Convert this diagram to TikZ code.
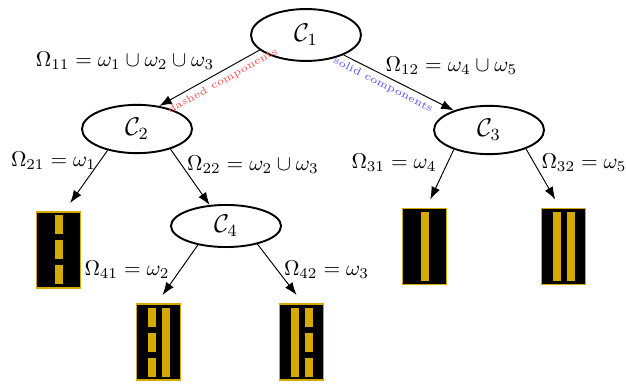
\documentclass[tikz,border=0pt]{standalone}
\usepackage{amsmath,amssymb}
\usepackage{tikz}
\usetikzlibrary{arrows.meta,calc,shapes.geometric}
\definecolor{LaneGold}{HTML}{D4A900}
\definecolor{TagRed}{HTML}{FF4D4D}
\definecolor{TagBlue}{HTML}{5050FF}
\newcommand{\solidlane}[2]{\fill[lane] ($(#1)+(#2-4,-34.5)$) rectangle ($(#1)+(#2+4,34.5)$);}
\newcommand{\dashlane}[2]{\foreach \dy in {-25,0,25} {\fill[lane] ($(#1)+(#2-4,\dy-9.5)$) rectangle ($(#1)+(#2+4,\dy+9.5)$);}}

\begin{document}
\begin{tikzpicture}[
  x=0.468pt,y=-0.468pt,
  cls/.style={ellipse,draw,line width=0.9pt,minimum width=51.5pt,minimum height=22.6pt,inner sep=0pt,font=\large},
  road/.style={draw=LaneGold,fill=black,line width=0.65pt,minimum width=20.6pt,minimum height=35.6pt,
               inner sep=0pt,outer sep=4.2pt},
  lane/.style={fill=LaneGold},
  arr/.style={line width=0.45pt,-{Latex[length=5.9pt,width=4.3pt]}},
  split/.style={inner sep=0pt},
  tag/.style={font=\fontsize{5}{6}\selectfont,inner sep=0pt}
]
\useasboundingbox (0,0) rectangle (626,386);

% classifiers
\node[cls,minimum height=24.3pt] (C1) at (306,35) {$\mathcal{C}_1$};
\node[cls] (C2) at (137,129) {$\mathcal{C}_2$};
\node[cls] (C3) at (489,130) {$\mathcal{C}_3$};
\node[cls,minimum height=19.7pt] (C4) at (226,226) {$\mathcal{C}_4$};

% leaves
\node[road] (L21) at (58.5,250) {};
\node[road] (L31) at (424.5,246.5) {};
\node[road] (L32) at (563.5,246.5) {};
\node[road] (L41) at (158.5,342) {};
\node[road] (L42) at (301.5,342) {};
\dashlane{L21}{0}
\solidlane{L31}{0}
\solidlane{L32}{-7}\solidlane{L32}{7}
\dashlane{L41}{-7}\solidlane{L41}{7}
\solidlane{L42}{-7}\dashlane{L42}{7}

\draw[arr] (C1.198) -- (C2.46);
\draw[arr] (C1.332) -- (C3.151);
\draw[arr] (C2.216) -- (L21.76);
\draw[arr] (C2.329) -- (C4.128);
\draw[arr] (C3.209) -- (L31.83);
\draw[arr] (C3.333) -- (L32.100);
\draw[arr] (C4.214) -- (L41.85);
\draw[arr] (C4.330) -- (L42.96);

% component tags
\node[tag,text=TagRed,rotate=29] (dashtag) at (223,81) {dashed components};
\node[tag,text=TagBlue,rotate=-27] (solidtag) at (383,85) {solid components};

% splits
\node[split] (o11) at (125,61) {$\Omega_{11}=\omega_1\cup\omega_2\cup\omega_3$};
\node[split] (o12) at (451.5,66) {$\Omega_{12}=\omega_4\cup\omega_5$};
\node[split] (o21) at (53.5,161) {$\Omega_{21}=\omega_1$};
\node[split] (o22) at (253,165) {$\Omega_{22}=\omega_2\cup\omega_3$};
\node[split] (o31) at (394,163) {$\Omega_{31}=\omega_4$};
\node[split] (o32) at (584,163) {$\Omega_{32}=\omega_5$};
\node[split] (o41) at (127,270) {$\Omega_{41}=\omega_2$};
\node[split] (o42) at (326.5,270) {$\Omega_{42}=\omega_3$};
\end{tikzpicture}
\end{document}
